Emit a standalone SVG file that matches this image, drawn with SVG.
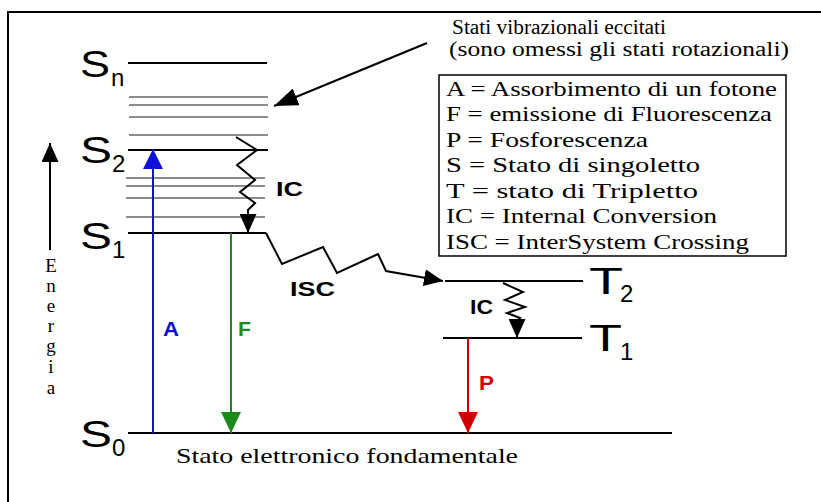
<svg xmlns="http://www.w3.org/2000/svg" width="821" height="502" viewBox="0 0 821 502">
<style>
.frame{fill:none;stroke:#000;stroke-width:2}
.lvl{stroke:#000;stroke-width:2}
.vib{stroke:#8c8c8c;stroke-width:2}
.lab{font-family:"Liberation Sans",Arial,sans-serif;font-size:36px;fill:#000}
.sub{font-family:"Liberation Sans",Arial,sans-serif;font-size:24px;fill:#000}
.ser{font-family:"Liberation Serif","Times New Roman",serif;font-size:21.5px;fill:#000}
.note{font-family:"Liberation Serif","Times New Roman",serif;font-size:20px;fill:#000}
.en{font-family:"Liberation Serif","Times New Roman",serif;font-size:19px;fill:#000;text-anchor:middle}
.bold{font-family:"Liberation Sans",Arial,sans-serif;font-weight:bold;font-size:21px}
.zz{fill:none;stroke:#000;stroke-width:2}
.box{fill:none;stroke:#000;stroke-width:1.5}
</style>
<defs>
<marker id="hBlue" markerUnits="userSpaceOnUse" markerWidth="20" markerHeight="20" refX="20" refY="10" orient="auto"><path d="M0,0 L20,10 L0,20 z" fill="#1010d8"/></marker>
<marker id="hGreen" markerUnits="userSpaceOnUse" markerWidth="21" markerHeight="20" refX="21" refY="10" orient="auto"><path d="M0,0 L21,10 L0,20 z" fill="#1a8a1a"/></marker>
<marker id="hRed" markerUnits="userSpaceOnUse" markerWidth="21" markerHeight="20" refX="21" refY="10" orient="auto"><path d="M0,0 L21,10 L0,20 z" fill="#d00000"/></marker>
<marker id="hBlack" markerUnits="userSpaceOnUse" markerWidth="19" markerHeight="17" refX="19" refY="8.5" orient="auto"><path d="M0,0 L19,8.5 L0,17 z" fill="#000"/></marker>
<marker id="hBig" markerUnits="userSpaceOnUse" markerWidth="24" markerHeight="18" refX="24" refY="9" orient="auto"><path d="M0,0 L24,9 L0,18 z" fill="#000"/></marker>
</defs>
<rect width="821" height="502" fill="#fff"/>
<path class="frame" d="M8,502 V12 H821"/>

<g id="level-Sn">
<line class="lvl" x1="128" y1="63" x2="267" y2="63"/>
<text class="lab" x="80" y="77" textLength="30" lengthAdjust="spacingAndGlyphs">S</text>
<text class="sub" x="111" y="86">n</text>
</g>
<g id="vib-S2">
<line class="vib" x1="129" y1="97" x2="268" y2="97"/>
<line class="vib" x1="129" y1="105" x2="268" y2="105"/>
<line class="vib" x1="129" y1="117" x2="268" y2="117"/>
<line class="vib" x1="129" y1="135" x2="268" y2="135"/>
</g>
<g id="level-S2">
<line class="lvl" x1="128" y1="150" x2="268" y2="150"/>
<text class="lab" x="80" y="163" textLength="32" lengthAdjust="spacingAndGlyphs">S</text>
<text class="sub" x="112" y="172">2</text>
</g>
<g id="vib-S1">
<line class="vib" x1="126" y1="178" x2="265" y2="178"/>
<line class="vib" x1="126" y1="186" x2="265" y2="186"/>
<line class="vib" x1="126" y1="198" x2="265" y2="198"/>
<line class="vib" x1="126" y1="217" x2="265" y2="217"/>
</g>
<g id="level-S1">
<line class="lvl" x1="128" y1="233" x2="266" y2="233"/>
<text class="lab" x="80" y="249" textLength="32" lengthAdjust="spacingAndGlyphs">S</text>
<text class="sub" x="112" y="258">1</text>
</g>
<g id="level-S0">
<line class="lvl" x1="128" y1="433" x2="672" y2="433"/>
<text class="lab" x="80" y="447" textLength="32" lengthAdjust="spacingAndGlyphs">S</text>
<text class="sub" x="112" y="456">0</text>
<text class="ser" x="176" y="463" textLength="342" lengthAdjust="spacingAndGlyphs">Stato elettronico fondamentale</text>
</g>
<g id="level-T2">
<line class="lvl" x1="445" y1="281" x2="583" y2="281"/>
<text class="lab" x="589" y="294" textLength="34" lengthAdjust="spacingAndGlyphs">T</text>
<text class="sub" x="620" y="302">2</text>
</g>
<g id="level-T1">
<line class="lvl" x1="443" y1="338" x2="582" y2="338"/>
<text class="lab" x="589" y="351" textLength="33" lengthAdjust="spacingAndGlyphs">T</text>
<text class="sub" x="620" y="360">1</text>
</g>

<g id="energy-axis">
<line x1="50" y1="250" x2="50" y2="143" stroke="#000" stroke-width="2" marker-end="url(#hBlack)"/>
<text class="en" x="51" y="272">E</text>
<text class="en" x="51" y="292">n</text>
<text class="en" x="51" y="312">e</text>
<text class="en" x="51" y="332">r</text>
<text class="en" x="51" y="352">g</text>
<text class="en" x="51" y="373">i</text>
<text class="en" x="51" y="394">a</text>
</g>

<g id="note">
<text class="note" x="452" y="34" textLength="214" lengthAdjust="spacingAndGlyphs">Stati vibrazionali eccitati</text>
<text class="note" x="449" y="56" textLength="340" lengthAdjust="spacingAndGlyphs">(sono omessi gli stati rotazionali)</text>
</g>

<g id="legend">
<rect class="box" x="439" y="75" width="347" height="181"/>
<text class="ser" x="446" y="96" textLength="331" lengthAdjust="spacingAndGlyphs">A = Assorbimento di un fotone</text>
<text class="ser" x="446" y="121" textLength="326" lengthAdjust="spacingAndGlyphs">F = emissione di Fluorescenza</text>
<text class="ser" x="446" y="147" textLength="202" lengthAdjust="spacingAndGlyphs">P = Fosforescenza</text>
<text class="ser" x="446" y="172" textLength="254" lengthAdjust="spacingAndGlyphs">S = Stato di singoletto</text>
<text class="ser" x="446" y="198" textLength="252" lengthAdjust="spacingAndGlyphs">T = stato di Tripletto</text>
<text class="ser" x="446" y="223" textLength="271" lengthAdjust="spacingAndGlyphs">IC = Internal Conversion</text>
<text class="ser" x="446" y="249" textLength="303" lengthAdjust="spacingAndGlyphs">ISC = InterSystem Crossing</text>
</g>

<g id="connectors">
<line x1="427" y1="43" x2="274" y2="106" stroke="#000" stroke-width="2" marker-end="url(#hBig)"/>
<line x1="153" y1="433" x2="153" y2="149" stroke="#1010d8" stroke-width="2" marker-end="url(#hBlue)"/>
<line x1="231" y1="233" x2="231" y2="433" stroke="#1a8a1a" stroke-width="2" marker-end="url(#hGreen)"/>
<line x1="468" y1="338" x2="468" y2="433" stroke="#d00000" stroke-width="2" marker-end="url(#hRed)"/>
<polyline class="zz" points="236,137 257,150 237,165 255,180 240,192 255,203 248,210 248,233" marker-end="url(#hBlack)"/>
<polyline class="zz" points="503,283 523,292 505,300 525,307 507,313 520,318 517,321 517,338" marker-end="url(#hBlack)"/>
<polyline class="zz" points="266,233 282,264 323,247 337,273 378,254 386,271 443,281" marker-end="url(#hBlack)"/>
<text class="bold" x="163" y="336" fill="#1010d8" textLength="16" lengthAdjust="spacingAndGlyphs">A</text>
<text class="bold" x="238" y="336" fill="#1a8a1a" textLength="13" lengthAdjust="spacingAndGlyphs">F</text>
<text class="bold" x="479" y="390" fill="#d00000" textLength="15" lengthAdjust="spacingAndGlyphs">P</text>
<text class="bold" x="276" y="196" textLength="27" lengthAdjust="spacingAndGlyphs">IC</text>
<text class="bold" x="470" y="314" textLength="23" lengthAdjust="spacingAndGlyphs">IC</text>
<text class="bold" x="290" y="296" textLength="45" lengthAdjust="spacingAndGlyphs">ISC</text>
</g>
</svg>
